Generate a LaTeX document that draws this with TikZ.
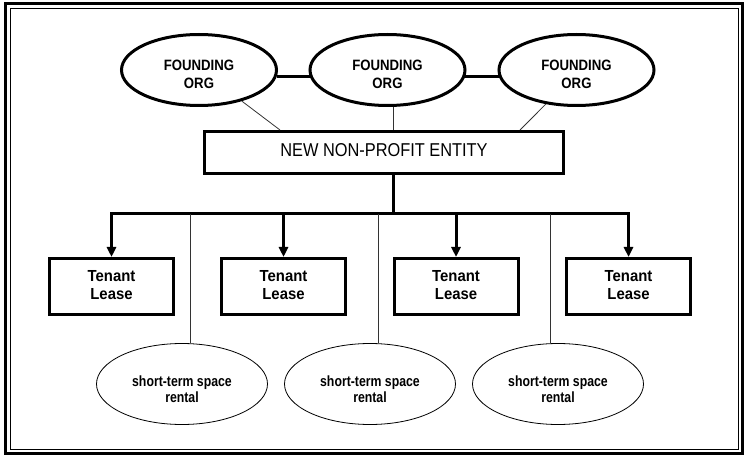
\documentclass[tikz,border=0pt]{standalone}
\usepackage{fontspec}
\setmainfont{Liberation Sans}
\newfontfamily\orgfont{Liberation Sans}[FakeStretch=0.88]
\newfontfamily\leasefont{Liberation Sans}[FakeStretch=0.93]
\newfontfamily\rentalfont{Liberation Sans}[FakeStretch=0.83]
\usetikzlibrary{shapes,arrows.meta,positioning}

\begin{document}
\begin{tikzpicture}[x=1pt, y=-1pt,
    org/.style={ellipse, draw, line width=3pt, minimum width=155pt, minimum height=71pt,
        inner sep=0pt, align=center, text height=40pt, text depth=3.4pt,
        font=\orgfont\fontsize{15}{17.6}\selectfont\bfseries},
    entity/.style={rectangle, draw, line width=3pt, minimum width=359pt, minimum height=42pt,
        text height=12.2pt, text depth=3.8pt, font=\orgfont\fontsize{18.6}{20}\selectfont},
    lease/.style={rectangle, draw, line width=3pt, minimum width=124pt, minimum height=56pt,
        align=center, text height=30pt, text depth=5pt,
        font=\leasefont\fontsize{16}{17.4}\selectfont\bfseries},
    rental/.style={ellipse, draw, line width=0.8pt, minimum width=171pt, minimum height=81pt,
        inner sep=0pt, align=center, text height=40pt, text depth=3pt,
        font=\rentalfont\fontsize{14.8}{16.5}\selectfont\bfseries},
    link/.style={line width=0.8pt, draw=black!80},
    bus/.style={line width=3pt, line cap=rect},
    leasearrow/.style={-{Triangle[length=10pt,width=9pt]}}
]
    \useasboundingbox (0,0) rectangle (747,457);

    % Double frame round the whole chart
    \draw[line width=3pt] (5.5,4) rectangle (742.5,453.5);
    \draw[line width=0.8pt] (10,8.5) rectangle (738.5,449.5);

    % Founding organisations
    \node[org] (orgA) at (199,70) {FOUNDING\\ORG};
    \node[org] (orgB) at (387.5,70) {FOUNDING\\ORG};
    \node[org] (orgC) at (576.5,70) {FOUNDING\\ORG};
    \draw[bus, line cap=butt] (orgA.-5) -- (orgB.185);
    \draw[bus, line cap=butt] (orgB.-5) -- (orgC.185);

    % The new entity
    \node[entity] (entity) at (384,152.5) {NEW NON-PROFIT ENTITY};
    \draw[link] (orgA.-36) -- ([xshift=-104pt]entity.north);
    \draw[link] ([xshift=9pt]entity.north) coordinate (mid) -- (mid |- orgB.south);
    \draw[link] (orgC.-132) -- ([xshift=136pt]entity.north);

    % Tenant leases
    \node[lease] (lease1) at (111.5,286.5) {Tenant\\Lease};
    \node[lease] (lease2) at (283.5,286.5) {Tenant\\Lease};
    \node[lease] (lease3) at (456,286.5) {Tenant\\Lease};
    \node[lease] (lease4) at (628.5,286.5) {Tenant\\Lease};

    \coordinate (hub) at (393,214);
    \draw[bus] ([xshift=9pt]entity.south) -- (hub);
    \draw[bus] (lease1.north |- hub) -- (lease4.north |- hub);
    \draw[bus, line cap=butt, leasearrow] (lease1.north |- hub) -- (lease1.north);
    \draw[bus, line cap=butt, leasearrow] (lease2.north |- hub) -- (lease2.north);
    \draw[bus, line cap=butt, leasearrow] (lease3.north |- hub) -- (lease3.north);
    \draw[bus, line cap=butt, leasearrow] (lease4.north |- hub) -- (lease4.north);

    % Short-term rentals
    \node[rental] (rental1) at (182,384) {short-term space\\rental};
    \node[rental] (rental2) at (370,384) {short-term space\\rental};
    \node[rental] (rental3) at (558,384) {short-term space\\rental};

    \coordinate (drop1) at (190,214);
    \coordinate (drop2) at (378,214);
    \coordinate (drop3) at (550,214);
    \draw[link] (drop1) -- (drop1 |- rental1.north);
    \draw[link] (drop2) -- (drop2 |- rental2.north);
    \draw[link] (drop3) -- (drop3 |- rental3.north);
\end{tikzpicture}
\end{document}
